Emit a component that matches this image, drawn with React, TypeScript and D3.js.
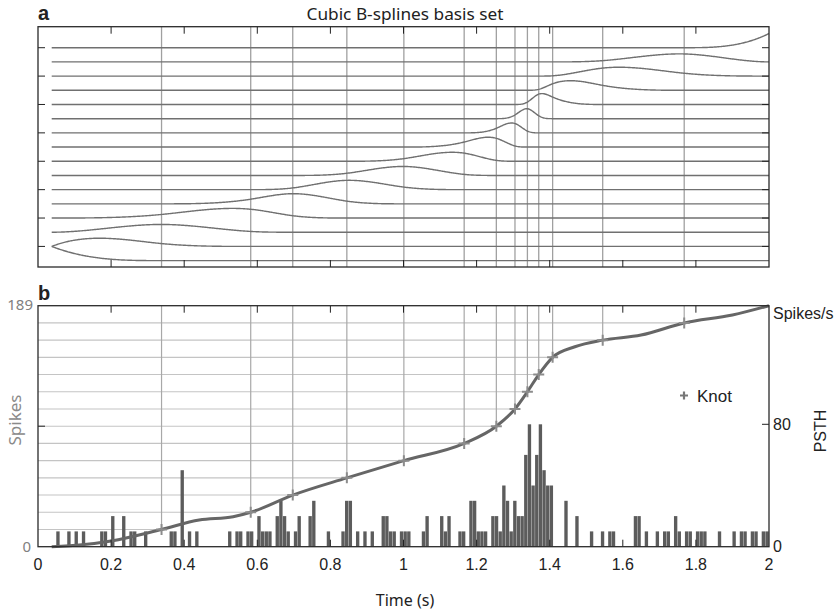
import React from 'react';
import * as d3 from 'd3';

// knots (s) and the spike count reached at each knot
const knotTimes = [0.338, 0.582, 0.697, 0.845, 1.001, 1.166, 1.254, 1.305, 1.339, 1.37, 1.408, 1.545, 1.768];
const knotSpikes = [13.5, 27, 40.5, 54, 67.5, 81, 94.5, 108, 121.5, 135, 148.5, 162, 175.5];
const startTime = 0.0375;
const endTime = 2;
const totalSpikes = 189;

// cumulative spike count curve
const cumTimes = [0.0375, 0.12, 0.2, 0.338, 0.441, 0.534, 0.582, 0.697, 0.845, 1.001, 1.166, 1.254, 1.305, 1.339, 1.37, 1.408, 1.469, 1.545, 1.65, 1.768, 1.9, 2];
const cumSpikes = [0, 1.5, 4.5, 13.5, 20.9, 23.5, 27, 40.5, 54, 67.5, 81, 94.5, 108, 121.5, 135, 148.5, 156.8, 162, 166, 175.5, 181.7, 189];

// PSTH, 10 ms bins: bin start (s) and rate (spikes/s), empty bins left out
const binStarts = [
  0.05, 0.08, 0.1, 0.12, 0.17, 0.18, 0.2, 0.23, 0.25, 0.26, 0.29, 0.36, 0.37, 0.39, 0.41, 0.43,
  0.52, 0.54, 0.55, 0.57, 0.58, 0.6, 0.61, 0.62, 0.63, 0.65, 0.66, 0.67, 0.68, 0.7, 0.71, 0.74, 0.75,
  0.79, 0.83, 0.84, 0.85, 0.87, 0.89, 0.91, 0.94, 0.95, 0.96, 0.97, 0.99, 1.0, 1.01,
  1.05, 1.06, 1.1, 1.11, 1.12, 1.15, 1.16, 1.18, 1.19, 1.2, 1.21, 1.22, 1.24, 1.25, 1.26, 1.27, 1.28,
  1.29, 1.3, 1.31, 1.32, 1.33, 1.34, 1.35, 1.36, 1.37, 1.38, 1.39, 1.4, 1.44, 1.47,
  1.51, 1.54, 1.56, 1.57, 1.63, 1.64, 1.66, 1.69, 1.71, 1.72, 1.74, 1.75, 1.77, 1.78, 1.8, 1.81, 1.82,
  1.86, 1.9, 1.92, 1.93, 1.95, 1.96, 1.98, 1.99,
];
const binRates = [
  10, 10, 10, 10, 10, 10, 20, 20, 10, 10, 10, 10, 10, 50, 10, 10,
  10, 10, 10, 10, 10, 20, 10, 10, 10, 20, 30, 20, 10, 10, 20, 20, 30,
  10, 10, 30, 30, 10, 10, 10, 20, 20, 10, 10, 10, 10, 10,
  10, 20, 20, 10, 20, 10, 10, 30, 30, 10, 10, 10, 20, 20, 10, 40, 30,
  10, 30, 20, 20, 60, 80, 40, 60, 80, 50, 40, 40, 30, 20,
  10, 10, 10, 10, 20, 20, 10, 10, 10, 10, 20, 10, 10, 10, 10, 10, 10,
  10, 10, 10, 10, 10, 10, 10, 10,
];
const binWidth = 0.01;

// basis functions drawn in panel a, bottom row first
const basisShown = [0, 1, 2, 3, 4, 5, 6, 7, 8, 9, 10, 11, 12, 13, 14, 16];

const xTicks = [0, 0.2, 0.4, 0.6, 0.8, 1, 1.2, 1.4, 1.6, 1.8, 2];

// --- layout ---
const W = 837;
const H = 616;
const left = 38;
const right = 769;
const aTop = 26.7;
const aBottom = 267;
const bTop = 305.7;
const bBottom = 546.7;

const sans = "'Liberation Sans', Arial, sans-serif";
const humanist = "'Noto Sans', 'Open Sans', sans-serif";

// cubic B-spline basis, Cox-de Boor
const knotVec = [startTime, startTime, startTime, startTime, ...knotTimes, endTime, endTime, endTime, endTime];
function bspline(i: number, k: number, t: number): number {
  if (k === 1) {
    if (knotVec[i] <= t && t < knotVec[i + 1]) return 1;
    if (t >= endTime && knotVec[i + 1] === endTime && knotVec[i] < endTime) return 1;
    return 0;
  }
  let v = 0;
  const d1 = knotVec[i + k - 1] - knotVec[i];
  if (d1 > 0) v += ((t - knotVec[i]) / d1) * bspline(i, k - 1, t);
  const d2 = knotVec[i + k] - knotVec[i + 1];
  if (d2 > 0) v += ((knotVec[i + k] - t) / d2) * bspline(i + 1, k - 1, t);
  return v;
}

export default function App() {
  const x = d3.scaleLinear().domain([0, 2]).range([left, right]);
  const rowY = d3.scaleLinear().domain([-0.45, 16.48]).range([aBottom, aTop]);
  const yCount = d3.scaleLinear().domain([0, totalSpikes]).range([bBottom, bTop]);
  const yRate = d3.scaleLinear().domain([0, 80]).range([bBottom, 424.3]);

  const samples = d3.range(0, 801).map((j) => startTime + ((endTime - startTime) * j) / 800);
  const basisLine = d3.line<[number, number]>().x((d) => x(d[0])).y((d) => rowY(d[1]));
  const basisPaths = basisShown.map((bi, row) =>
    basisLine(samples.map((t) => [t, row + bspline(bi, 4, t)] as [number, number]))
  );

  const cumLine = d3
    .line<number>()
    .x((_, i) => x(cumTimes[i]))
    .y((d) => yCount(d))
    .curve(d3.curveMonotoneX);

  const rowTicks = d3.range(1, 16, 2);
  const tickLen = 7;
  const plus = (cx: number, cy: number, s: number) => `M${cx - s},${cy}H${cx + s}M${cx},${cy - s}V${cy + s}`;

  return (
    <svg width={W} height={H} style={{ position: 'absolute', left: 0, top: 0, background: '#fff' }}>
      {/* ---------- panel a ---------- */}
      <text x={38} y={20} fontFamily={sans} fontWeight="bold" fontSize={20} fill="#222">a</text>
      <text x={405} y={20} textAnchor="middle" fontFamily={humanist} fontSize={16} textLength={197} lengthAdjust="spacingAndGlyphs" fill="#222">
        Cubic B-splines basis set
      </text>
      {knotTimes.map((k, i) => (
        <line key={'av' + i} x1={x(k)} x2={x(k)} y1={aTop} y2={aBottom} stroke="#a0a0a0" strokeWidth={1.3} />
      ))}
      {basisPaths.map((p, i) => (
        <path key={'b' + i} d={p || ''} fill="none" stroke="#707070" strokeWidth={1.4} />
      ))}
      {xTicks.slice(1, -1).map((t) => (
        <g key={'at' + t}>
          <line x1={x(t)} x2={x(t)} y1={aTop} y2={aTop + tickLen} stroke="#222" strokeWidth={1} />
          <line x1={x(t)} x2={x(t)} y1={aBottom} y2={aBottom - tickLen} stroke="#222" strokeWidth={1} />
        </g>
      ))}
      {rowTicks.map((r) => (
        <g key={'ar' + r}>
          <line x1={left} x2={left + tickLen} y1={rowY(r)} y2={rowY(r)} stroke="#222" strokeWidth={1} />
          <line x1={right} x2={right - tickLen} y1={rowY(r)} y2={rowY(r)} stroke="#222" strokeWidth={1} />
        </g>
      ))}
      <rect x={left} y={aTop} width={right - left} height={aBottom - aTop} fill="none" stroke="#2a2a2a" strokeWidth={1.3} />

      {/* ---------- panel b ---------- */}
      <text x={38} y={300} fontFamily={sans} fontWeight="bold" fontSize={20} fill="#222">b</text>
      {knotTimes.map((k, i) => (
        <line key={'bh' + i} x1={left} x2={x(k)} y1={yCount(knotSpikes[i])} y2={yCount(knotSpikes[i])} stroke="#c4c4c4" strokeWidth={1.1} />
      ))}
      {knotTimes.map((k, i) => (
        <line key={'bv' + i} x1={x(k)} x2={x(k)} y1={bTop} y2={yCount(knotSpikes[i])} stroke="#a8a8a8" strokeWidth={1.2} />
      ))}
      {binStarts.map((b, i) => (
        <rect
          key={'bar' + i}
          x={x(b)}
          y={yRate(binRates[i])}
          width={x(b + binWidth) - x(b) - 0.3}
          height={yRate(0) - yRate(binRates[i])}
          fill="#5c5c5c"
        />
      ))}
      <path d={cumLine(cumSpikes) || ''} fill="none" stroke="#666" strokeWidth={3} strokeLinejoin="round" />
      {knotTimes.map((k, i) => (
        <path key={'kp' + i} d={plus(x(k), yCount(knotSpikes[i]), 5.5)} stroke="#8c8c8c" strokeWidth={2} />
      ))}
      {xTicks.slice(1, -1).map((t) => (
        <g key={'bt' + t}>
          <line x1={x(t)} x2={x(t)} y1={bTop} y2={bTop + tickLen} stroke="#222" strokeWidth={1} />
          <line x1={x(t)} x2={x(t)} y1={bBottom} y2={bBottom - tickLen} stroke="#222" strokeWidth={1} />
        </g>
      ))}
      <line x1={left} x2={left + tickLen} y1={yCount(totalSpikes / 2)} y2={yCount(totalSpikes / 2)} stroke="#222" strokeWidth={1} />
      <line x1={right} x2={right - tickLen} y1={yRate(80)} y2={yRate(80)} stroke="#222" strokeWidth={1} />
      <rect x={left} y={bTop} width={right - left} height={bBottom - bTop} fill="none" stroke="#2a2a2a" strokeWidth={1.3} />

      {/* left axis */}
      <text x={33} y={310} textAnchor="end" fontFamily={humanist} fontSize={15} fill="#808080">{totalSpikes}</text>
      <text x={31} y={552} textAnchor="end" fontFamily={humanist} fontSize={15} fill="#808080">0</text>
      <text transform={`translate(21,420) rotate(-90)`} textAnchor="middle" fontFamily={humanist} fontSize={17} fill="#8a8a8a">
        Spikes
      </text>

      {/* right axis */}
      <text x={773} y={319} fontFamily={sans} fontSize={16} fill="#222">Spikes/s</text>
      <text x={773} y={430} fontFamily={sans} fontSize={16} fill="#222">80</text>
      <text x={773} y={552} fontFamily={sans} fontSize={16} fill="#222">0</text>
      <text transform={`translate(826,431) rotate(-90)`} textAnchor="middle" fontFamily={sans} fontSize={16} fill="#222">
        PSTH
      </text>

      {/* legend */}
      <path d={plus(684, 395.5, 4)} stroke="#777" strokeWidth={2.2} />
      <text x={697} y={401.5} fontFamily={sans} fontSize={17} fill="#222">Knot</text>

      {/* x axis */}
      {xTicks.map((t) => (
        <text key={'xl' + t} x={x(t)} y={570} textAnchor="middle" fontFamily={sans} fontSize={16} fill="#222">
          {String(t)}
        </text>
      ))}
      <text x={405} y={606} textAnchor="middle" fontFamily={humanist} fontSize={16} fill="#222">Time (s)</text>
    </svg>
  );
}
